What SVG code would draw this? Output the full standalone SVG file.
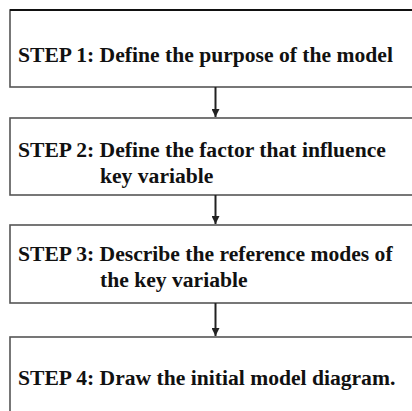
<svg xmlns="http://www.w3.org/2000/svg" width="412" height="411" viewBox="0 0 412 411">
<style>
.box{fill:#fff;stroke:#555;stroke-width:1.6}
.t{font-family:"Liberation Serif","Times New Roman",serif;font-weight:bold;font-size:21.6px;fill:#111}
.c{stroke:#222;stroke-width:2;fill:none}
</style>
<defs>
<marker id="ah" viewBox="0 0 10 10" refX="10" refY="5" markerWidth="4.5" markerHeight="4" orient="auto" markerUnits="strokeWidth">
<path d="M0,0 L10,5 L0,10 Z" fill="#222"/>
</marker>
</defs>
<rect width="412" height="411" fill="#fff"/>
<g id="step1">
<rect class="box" x="10" y="10" width="420" height="77"/>
<line x1="10" y1="10" x2="412" y2="10" stroke="#111" stroke-width="1.8"/>
<text class="t" x="18" y="62">STEP 1: Define the purpose of the model</text>
</g>
<g id="step2">
<rect class="box" x="10" y="118" width="420" height="77"/>
<text class="t" x="18" y="157">STEP 2: Define the factor that influence</text>
<text class="t" x="100" y="183">key variable</text>
</g>
<g id="step3">
<rect class="box" x="10" y="225" width="420" height="78"/>
<text class="t" x="18" y="261">STEP 3: Describe the reference modes of</text>
<text class="t" x="100" y="287">the key variable</text>
</g>
<g id="step4">
<rect class="box" x="10" y="337" width="420" height="90"/>
<text class="t" x="18" y="385">STEP 4: Draw the initial model diagram.</text>
</g>
<g id="connectors">
<line class="c" x1="215.5" y1="87" x2="215.5" y2="117" marker-end="url(#ah)"/>
<line class="c" x1="215.5" y1="195" x2="215.5" y2="224" marker-end="url(#ah)"/>
<line class="c" x1="215.5" y1="303" x2="215.5" y2="336" marker-end="url(#ah)"/>
</g>
</svg>
